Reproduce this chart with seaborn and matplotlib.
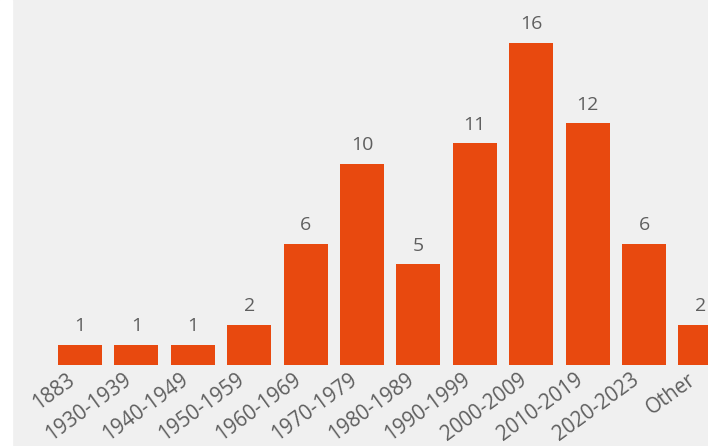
import matplotlib
matplotlib.use("Agg")
import matplotlib.pyplot as plt
import matplotlib.patches as mpatches
import matplotlib.transforms as mtransforms
import seaborn as sns
import pandas as pd

# --- data ---
periods = ["1883", "1930-1939", "1940-1949", "1950-1959", "1960-1969", "1970-1979",
           "1980-1989", "1990-1999", "2000-2009", "2010-2019", "2020-2023", "Other"]
counts = [1, 1, 1, 2, 6, 10, 5, 11, 16, 12, 6, 2]

BAR = "#E8490F"
BG = "#F0F0F0"
TXT = "#5F5F5F"

sns.set_theme(style="white")
plt.rcParams["font.family"] = ["Open Sans", "DejaVu Sans"]

df = pd.DataFrame({"period": periods, "count": counts})

fig = plt.figure(figsize=(7.08, 4.46), dpi=100, facecolor=BG)
# white strip on the left edge
fig.patches.append(mpatches.Rectangle((0, 0), 12 / 708, 1, transform=fig.transFigure,
                                      color="white", zorder=0))
ax = fig.add_axes([12 / 708, 81 / 446, 696 / 708, 365 / 446])
ax.set_facecolor(BG)

sns.barplot(data=df, x="period", y="count", color=BAR, saturation=1, width=0.78,
            linewidth=0, ax=ax)

for i, v in enumerate(counts):
    ax.annotate(str(v), (i, v), xytext=(0, 7), textcoords="offset points",
                ha="center", va="bottom", fontsize=14, color=TXT, clip_on=False)

ax.set_xlim(-68 / 56.4, 628 / 56.4)
ax.set_ylim(0, 365 / 20.14)
ax.set_xlabel("")
ax.set_ylabel("")
ax.set_yticks([])
for s in ax.spines.values():
    s.set_visible(False)

ax.tick_params(axis="x", length=0, pad=3, labelsize=14.8, labelcolor=TXT)
shift = mtransforms.ScaledTranslation(-13 / 100, 0, fig.dpi_scale_trans)
for lab in ax.get_xticklabels():
    lab.set_rotation(36)
    lab.set_ha("right")
    lab.set_va("top")
    lab.set_rotation_mode("anchor")
    lab.set_transform(lab.get_transform() + shift)

fig.savefig("out.png", dpi=100, facecolor=BG)
